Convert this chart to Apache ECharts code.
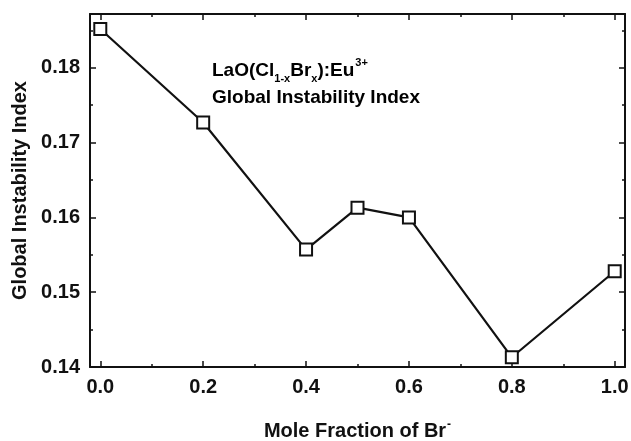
<!DOCTYPE html>
<html>
<head>
<meta charset="utf-8">
<title>Global Instability Index</title>
<script src="https://cdn.jsdelivr.net/npm/echarts@6/dist/echarts.min.js"></script>
<style>
  html, body { margin: 0; padding: 0; background: #ffffff; }
  #chart { width: 631px; height: 441px; }
</style>
</head>
<body>
<div id="chart"></div>
<script>
  // data
  const xValues = [0.0, 0.2, 0.4, 0.5, 0.6, 0.8, 1.0];
  const yValues = [0.1852, 0.1727, 0.1557, 0.1613, 0.1600, 0.1413, 0.1528];
  const xMajor = [0.0, 0.2, 0.4, 0.6, 0.8, 1.0];
  const xMinor = [0.1, 0.3, 0.5, 0.7, 0.9];
  const yMajor = [0.14, 0.15, 0.16, 0.17, 0.18];
  const yMinor = [0.145, 0.155, 0.165, 0.175, 0.185];

  const font = 'Liberation Sans, Arial, sans-serif';
  const black = '#111111';
  const xRange = { min: -0.02, max: 1.02 };
  const yRange = { min: 0.14, max: 0.1872 };

  const seriesData = xValues.map((x, i) => [x, yValues[i]]);

  // one visible axis + one axis carrying only the short minor ticks
  const makeAxis = (range, position, ticks, len, withLine, labels, extra) => Object.assign({
    type: 'value',
    position: position,
    min: range.min,
    max: range.max,
    splitLine: { show: false },
    axisLine: { show: withLine, onZero: false, lineStyle: { color: black, width: 2 } },
    axisTick: { show: true, inside: true, length: len, customValues: ticks, lineStyle: { color: black, width: 1.5 } },
    axisLabel: labels ? labels : { show: false }
  }, extra || {});

  const xLabel = {
    show: true,
    customValues: xMajor,
    margin: 10,
    color: black,
    fontFamily: font,
    fontWeight: 'bold',
    fontSize: 20,
    formatter: v => v.toFixed(1)
  };
  const yLabel = {
    show: true,
    customValues: yMajor,
    margin: 10,
    color: black,
    fontFamily: font,
    fontWeight: 'bold',
    fontSize: 20,
    formatter: v => v.toFixed(2)
  };

  const chart = echarts.init(document.getElementById('chart'));
  const option = {
    backgroundColor: '#ffffff',
    animation: false,
    grid: { left: 90, right: 6, top: 14, bottom: 74, outerBoundsMode: 'none' },
    xAxis: [
      makeAxis(xRange, 'bottom', xMajor, 6, true, xLabel, {
        name: '{t|Mole Fraction of Br}{s|-}',
        nameLocation: 'middle',
        nameGap: 52,
        nameTextStyle: {
          rich: {
            t: { fontFamily: font, fontWeight: 'bold', fontSize: 20, color: black },
            s: { fontFamily: font, fontWeight: 'bold', fontSize: 12, color: black, verticalAlign: 'top', padding: [0, 0, 12, 1] }
          }
        }
      }),
      makeAxis(xRange, 'bottom', xMinor, 3, false, null),
      makeAxis(xRange, 'top', xMajor, 6, true, null),
      makeAxis(xRange, 'top', xMinor, 3, false, null)
    ],
    yAxis: [
      makeAxis(yRange, 'left', yMajor, 6, true, yLabel, {
        name: 'Global Instability Index',
        nameLocation: 'middle',
        nameGap: 57,
        nameTextStyle: { fontFamily: font, fontWeight: 'bold', fontSize: 20, color: black }
      }),
      makeAxis(yRange, 'left', yMinor, 3, false, null),
      makeAxis(yRange, 'right', yMajor, 6, true, null),
      makeAxis(yRange, 'right', yMinor, 3, false, null)
    ],
    graphic: [
      {
        type: 'text',
        left: 212,
        top: 57,
        style: {
          text: '{m|LaO(Cl}{b|1-x}{m|Br}{b|x}{m|):Eu}{p|3+}\n{m|Global Instability Index}',
          rich: {
            m: { fontFamily: font, fontWeight: 'bold', fontSize: 19, color: black, lineHeight: 27 },
            b: { fontFamily: font, fontWeight: 'bold', fontSize: 11, color: black, verticalAlign: 'bottom', padding: [9, 0, 0, 0] },
            p: { fontFamily: font, fontWeight: 'bold', fontSize: 11, color: black, verticalAlign: 'top', padding: [0, 0, 9, 1] }
          }
        }
      }
    ],
    series: [
      {
        type: 'line',
        xAxisIndex: 0,
        yAxisIndex: 0,
        data: seriesData,
        symbol: 'rect',
        symbolSize: 12,
        showAllSymbol: true,
        lineStyle: { color: black, width: 2.2 },
        itemStyle: { color: '#ffffff', borderColor: black, borderWidth: 2 },
        z: 5
      }
    ]
  };
  chart.setOption(option);
</script>
</body>
</html>
